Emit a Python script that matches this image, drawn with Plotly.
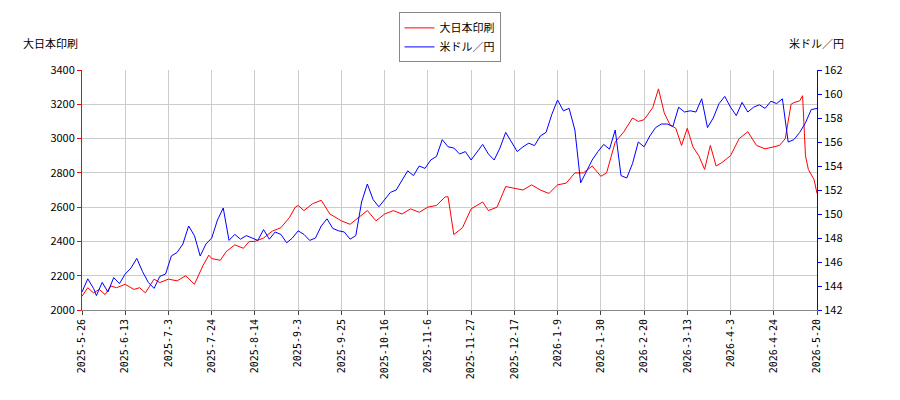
import plotly.graph_objects as go

# 目盛り（営業日インデックス）
tick_idx = [0, 15, 30, 45, 60, 75, 90, 105, 120, 135, 150, 165, 180, 195, 210, 225, 240, 255]
tick_lbl = ["2025-5-26", "2025-6-13", "2025-7-3", "2025-7-24", "2025-8-14", "2025-9-3",
            "2025-9-25", "2025-10-16", "2025-11-6", "2025-11-27", "2025-12-17", "2026-1-9",
            "2026-1-30", "2026-2-20", "2026-3-13", "2026-4-3", "2026-4-24", "2026-5-20"]

# 大日本印刷（円）
dnp_x = [0, 2, 4, 6, 8, 10, 12, 15, 18, 20, 22, 25, 27, 30, 33, 36, 39, 42, 44, 45, 48, 50,
         53, 56, 58, 60, 63, 66, 69, 72, 74, 75, 77, 80, 83, 86, 89, 90, 93, 96, 99, 102,
         105, 108, 111, 114, 117, 120, 123, 126, 127, 129, 132, 135, 137, 139, 141, 144, 147,
         150, 153, 156, 159, 162, 165, 168, 171, 174, 177, 180, 182, 185, 188, 191, 193, 195,
         198, 200, 202, 204, 206, 208, 210, 212, 214, 216, 218, 220, 222, 225, 228, 231, 234,
         237, 240, 242, 244, 246, 247, 249, 250, 251, 252, 254, 255]
dnp_y = [2080, 2130, 2100, 2120, 2090, 2140, 2130, 2150, 2120, 2130, 2100, 2180, 2160, 2180, 2170,
         2200, 2150, 2260, 2320, 2300, 2290, 2340, 2380, 2360, 2400, 2400, 2420, 2460, 2480, 2540,
         2600, 2610, 2580, 2620, 2640, 2560, 2530, 2520, 2500, 2540, 2580, 2520, 2560, 2580, 2560,
         2590, 2570, 2600, 2610, 2660, 2660, 2440, 2480, 2590, 2610, 2630, 2580, 2600, 2720, 2710,
         2700, 2730, 2700, 2680, 2730, 2740, 2800, 2800, 2840, 2780, 2800, 2980, 3040, 3120, 3100,
         3110, 3180, 3290, 3150, 3080, 3060, 2960, 3060, 2950, 2900, 2820, 2960, 2840, 2860, 2900,
         3000, 3040, 2960, 2940, 2950, 2960, 3000, 3200, 3210, 3220, 3250, 2900, 2820, 2760, 2680]

# 米ドル／円
usd_x = [0, 2, 4, 5, 7, 9, 11, 13, 15, 17, 19, 21, 23, 25, 27, 29, 31, 33, 35, 37, 39, 41, 43,
         45, 47, 49, 51, 53, 55, 57, 59, 61, 63, 65, 67, 69, 71, 73, 75, 77, 79, 81, 83, 85, 87, 89,
         91, 93, 95, 97, 99, 101, 103, 105, 107, 109, 111, 113, 115, 117, 119, 121, 123, 125, 127,
         129, 131, 133, 135, 137, 139, 141, 143, 145, 147, 149, 151, 153, 155, 157, 159, 161, 163,
         165, 167, 169, 171, 173, 175, 177, 179, 181, 183, 185, 187, 189, 191, 193, 195, 197, 199,
         201, 203, 205, 207, 209, 211, 213, 215, 217, 219, 221, 223, 225, 227, 229, 231, 233, 235,
         237, 239, 241, 243, 245, 247, 249, 251, 253, 255]
usd_y = [143.5, 144.6, 143.8, 143.2, 144.3, 143.5, 144.7, 144.2, 145.0, 145.5, 146.3, 145.2, 144.3,
         143.8, 144.8, 145.0, 146.5, 146.8, 147.5, 149.0, 148.2, 146.5, 147.5, 148.0, 149.5, 150.5,
         147.8, 148.3, 147.9, 148.2, 148.0, 147.8, 148.7, 147.9, 148.5, 148.3, 147.6, 148.0, 148.6,
         148.3, 147.8, 148.0, 149.0, 149.6, 148.8, 148.6, 148.5, 147.9, 148.2, 151.0, 152.5, 151.2,
         150.6, 151.2, 151.8, 152.0, 152.8, 153.6, 153.2, 154.0, 153.8, 154.5, 154.8, 156.2, 155.6,
         155.5, 155.0, 155.2, 154.5, 155.2, 155.8, 155.0, 154.5, 155.5, 156.8, 156.0, 155.2, 155.6,
         155.9, 155.7, 156.5, 156.8, 158.3, 159.5, 158.6, 158.8, 157.0, 152.6, 153.6, 154.5, 155.2,
         155.8, 155.4, 157.0, 153.2, 153.0, 154.2, 156.0, 155.6, 156.5, 157.2, 157.5, 157.5, 157.3,
         158.9, 158.5, 158.6, 158.5, 159.6, 157.2, 158.0, 159.2, 159.8, 158.9, 158.2, 159.3, 158.5,
         158.9, 159.1, 158.8, 159.4, 159.2, 159.6, 156.0, 156.2, 156.8, 157.6, 158.7, 158.8, 159.0]

fig = go.Figure()
fig.add_trace(go.Scatter(x=dnp_x, y=dnp_y, mode="lines", name="大日本印刷",
                         line=dict(color="red", width=1)))
fig.add_trace(go.Scatter(x=usd_x, y=usd_y, mode="lines", name="米ドル／円",
                         line=dict(color="blue", width=1), yaxis="y2"))

fig.update_layout(
    width=900, height=400,
    margin=dict(l=74, r=91, t=62, b=98, autoexpand=False),
    plot_bgcolor="white", paper_bgcolor="white",
    font=dict(family="Noto Sans CJK JP", size=11, color="black"),
    showlegend=True,
    legend=dict(x=0.5, y=1.24, xanchor="center", yanchor="top",
                bordercolor="#888", borderwidth=1, font=dict(size=11)),
    xaxis=dict(range=[0, 255], tickvals=tick_idx, ticktext=tick_lbl, tickangle=-90,
               showgrid=True, gridcolor="#cccccc", ticks="outside", ticklen=4,
               tickfont=dict(family="DejaVu Sans Mono", size=10), zeroline=False,
               showline=True, linecolor="#888"),
    yaxis=dict(range=[2000, 3400], dtick=200, showgrid=True, gridcolor="#cccccc",
               ticks="outside", ticklen=4, tickcolor="red", showline=True, linecolor="red",
               zeroline=False, tickfont=dict(size=11)),
    yaxis2=dict(range=[142, 162], dtick=2, overlaying="y", side="right", showgrid=False,
                ticks="outside", ticklen=4, tickcolor="blue", showline=True, linecolor="blue",
                zeroline=False, tickfont=dict(size=11)),
    annotations=[
        dict(text="大日本印刷", x=0, y=1.07, xref="paper", yref="paper", xanchor="right",
             yanchor="bottom", showarrow=False, xshift=-2, font=dict(size=11)),
        dict(text="米ドル／円", x=1, y=1.07, xref="paper", yref="paper", xanchor="left",
             yanchor="bottom", showarrow=False, xshift=-30, font=dict(size=11)),
    ],
)

fig.write_html("out.html")
